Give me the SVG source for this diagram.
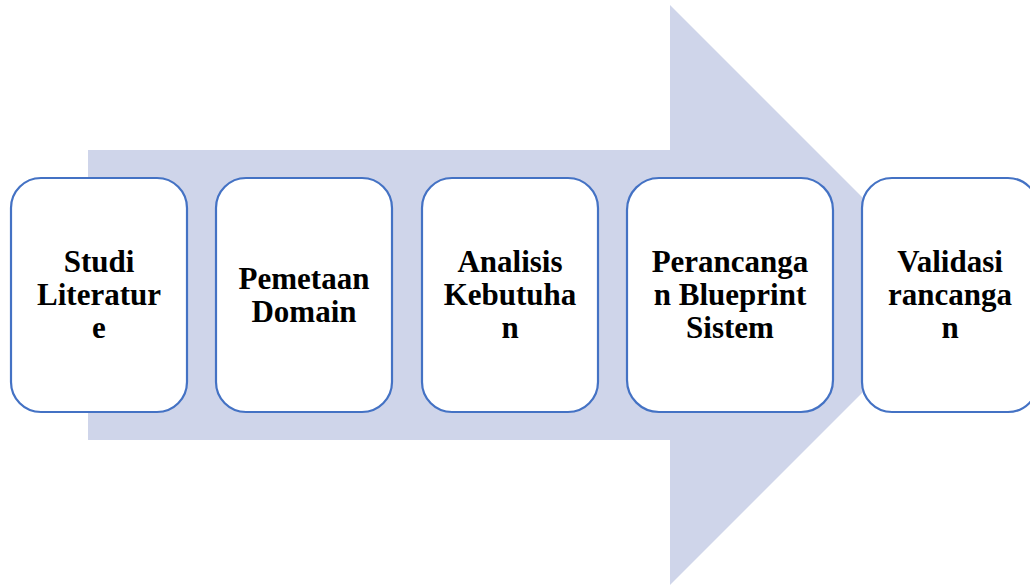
<svg xmlns="http://www.w3.org/2000/svg" width="1030" height="585" viewBox="0 0 1030 585">
<style>
.box{fill:#ffffff;stroke:#4472C4;stroke-width:2.2}
.lbl{font-family:"Liberation Serif","Times New Roman",serif;font-weight:bold;font-size:31px;fill:#000000;text-anchor:middle}
</style>
<rect width="1030" height="585" fill="#ffffff"/>
<g id="arrow">
<polygon points="88,150 670,150 670,5 960,295 670,585 670,440 88,440" fill="#CFD5EA"/>
</g>
<g id="connectors"></g>
<g id="node1">
<rect class="box" x="11" y="178" width="176" height="234" rx="30" ry="30"/>
<text class="lbl" x="99" y="272">Studi</text>
<text class="lbl" x="99" y="305">Literatur</text>
<text class="lbl" x="99" y="338">e</text>
</g>
<g id="node2">
<rect class="box" x="216" y="178" width="176" height="234" rx="30" ry="30"/>
<text class="lbl" x="304" y="289">Pemetaan</text>
<text class="lbl" x="304" y="322">Domain</text>
</g>
<g id="node3">
<rect class="box" x="422" y="178" width="176" height="234" rx="30" ry="30"/>
<text class="lbl" x="510" y="272">Analisis</text>
<text class="lbl" x="510" y="305">Kebutuha</text>
<text class="lbl" x="510" y="338">n</text>
</g>
<g id="node4">
<rect class="box" x="627" y="178" width="206" height="234" rx="32" ry="32"/>
<text class="lbl" x="730" y="272">Perancanga</text>
<text class="lbl" x="730" y="305">n Blueprint</text>
<text class="lbl" x="730" y="338">Sistem</text>
</g>
<g id="node5">
<rect class="box" x="862" y="178" width="176" height="234" rx="30" ry="30"/>
<text class="lbl" x="950" y="272">Validasi</text>
<text class="lbl" x="950" y="305">rancanga</text>
<text class="lbl" x="950" y="338">n</text>
</g>
</svg>
